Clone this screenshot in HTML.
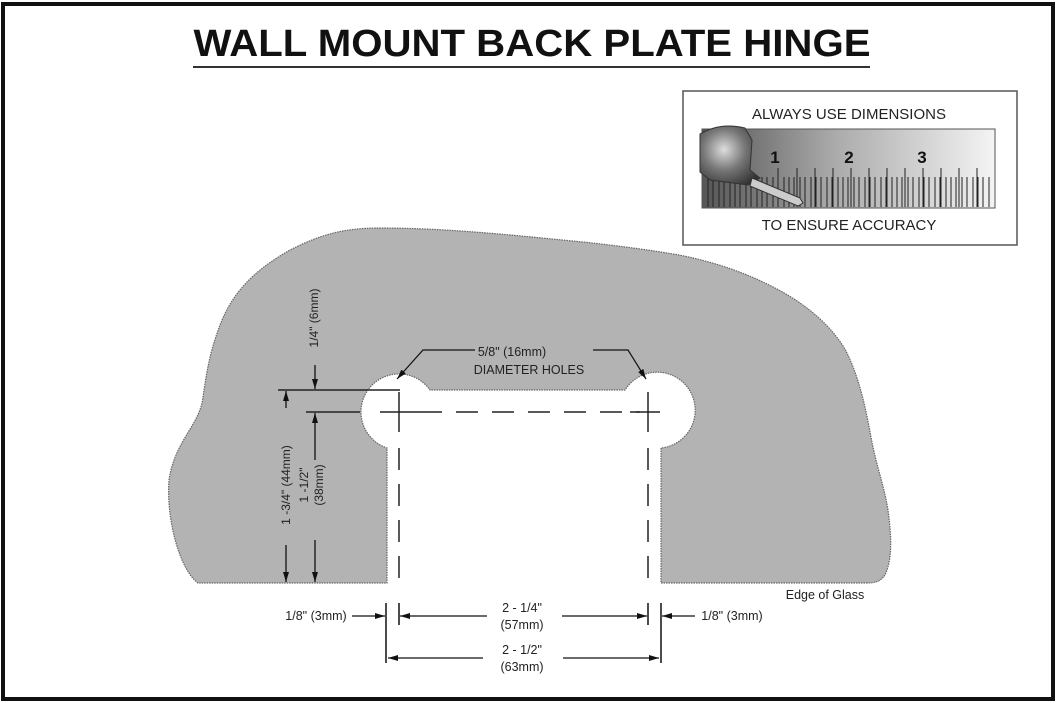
<!DOCTYPE html>
<html><head><meta charset="utf-8"><style>
html,body{margin:0;padding:0;background:#fff}
svg{display:block}
text{font-family:"Liberation Sans",Arial,sans-serif}
</style></head><body>
<svg width="1057" height="703" viewBox="0 0 1057 703" xmlns="http://www.w3.org/2000/svg">
<defs>
<linearGradient id="rg" x1="0" x2="1" y1="0" y2="0">
<stop offset="0" stop-color="#555"/><stop offset="0.45" stop-color="#aaa"/><stop offset="1" stop-color="#f4f4f4"/>
</linearGradient>
<radialGradient id="tg" cx="0.4" cy="0.4" r="0.7">
<stop offset="0" stop-color="#ddd"/><stop offset="0.5" stop-color="#777"/><stop offset="1" stop-color="#333"/>
</radialGradient>
<marker id="ar" viewBox="0 0 10 6" refX="10" refY="3" markerWidth="10" markerHeight="6" orient="auto" markerUnits="userSpaceOnUse"><path d="M0,0 L10,3 L0,6 Z" fill="#111"/></marker>
</defs>
<rect x="3" y="4" width="1050" height="695" fill="none" stroke="#111" stroke-width="4"/>
<text x="532" y="56" font-size="38" font-weight="bold" text-anchor="middle" textLength="677" lengthAdjust="spacingAndGlyphs" fill="#111">WALL MOUNT BACK PLATE HINGE</text>
<line x1="193" y1="67" x2="870" y2="67" stroke="#333" stroke-width="2"/>

<!-- tape box -->
<rect x="683" y="91" width="334" height="154" fill="#fff" stroke="#555" stroke-width="1.5"/>
<text x="849" y="119" font-size="15" text-anchor="middle" fill="#222">ALWAYS USE DIMENSIONS</text>
<text x="849" y="230" font-size="15" text-anchor="middle" fill="#222">TO ENSURE ACCURACY</text>
<rect x="702" y="129" width="293" height="79" fill="url(#rg)" stroke="#555"/>
<g stroke="#222" stroke-width="1">
<path d="M708,177V207M713,177V207M719,177V207M724,177V207M730,177V207M735,177V207M740,177V207M746,177V207M751,177V207M757,177V207M762,177V207M767,177V207M773,177V207M778,177V207M784,177V207M789,177V207M794,177V207M800,177V207M805,177V207M811,177V207M816,177V207M821,177V207M827,177V207M832,177V207M838,177V207M843,177V207M848,177V207M854,177V207M859,177V207M865,177V207M870,177V207M875,177V207M881,177V207M886,177V207M892,177V207M897,177V207M902,177V207M908,177V207M913,177V207M919,177V207M924,177V207M929,177V207M935,177V207M940,177V207M946,177V207M951,177V207M956,177V207M962,177V207M967,177V207M973,177V207M978,177V207M983,177V207M989,177V207"/>
<path d="M778,168V207M797,168V207M815,168V207M833,168V207M851,168V207M869,168V207M887,168V207M905,168V207M923,168V207M941,168V207M959,168V207M977,168V207"/>
</g>
<text x="775" y="163" font-size="17" font-weight="bold" text-anchor="middle" fill="#111">1</text>
<text x="849" y="163" font-size="17" font-weight="bold" text-anchor="middle" fill="#111">2</text>
<text x="922" y="163" font-size="17" font-weight="bold" text-anchor="middle" fill="#111">3</text>
<path d="M700,134 Q720,122 745,128 L752,140 L750,170 L760,178 L748,185 L710,180 L700,172 Z" fill="url(#tg)" stroke="#333"/>
<path d="M752,178 L800,198 L803,203 L798,206 L750,186 Z" fill="#ccc" stroke="#333"/>

<!-- glass -->
<path d="M198,583 C180,570 166,520 169,480 C175,440 200,425 203,397 C207,370 210,350 222,320 C235,290 255,270 290,250 C320,235 342,228 380,228 C450,228 520,236 583,242 C620,246 650,250 679,255 C720,263 750,275 775,288 C810,306 835,330 847,353 C860,380 866,410 871,437 C876,465 884,485 888,510 C892,540 892,560 885,575 C880,582 875,583 866,583 L661,583 L661,448 A38,38 0 1 0 625,390 L430,390 A38,38 0 1 0 387,448 L387,583 Z" fill="#b3b3b3" stroke="#666" stroke-width="1.2" stroke-dasharray="1.5 1"/>

<!-- dashed center lines -->
<g stroke="#222" stroke-width="1.5" stroke-dasharray="22 14" fill="none">
<line x1="300" y1="412" x2="648" y2="412" stroke-dasharray="none" stroke-width="0"/>
<line x1="420" y1="412" x2="640" y2="412"/>
<line x1="399" y1="448" x2="399" y2="590"/>
<line x1="648" y1="448" x2="648" y2="590"/>
</g>
<g stroke="#222" stroke-width="1.5">
<line x1="399" y1="392" x2="399" y2="432"/><line x1="380" y1="412" x2="420" y2="412"/>
<line x1="648" y1="392" x2="648" y2="432"/><line x1="630" y1="412" x2="660" y2="412"/>
<line x1="278" y1="390" x2="400" y2="390"/>
<line x1="306" y1="412" x2="360" y2="412"/>
</g>
<!-- vertical dims -->
<g stroke="#111" stroke-width="1.3" fill="none">
<line x1="315" y1="365" x2="315" y2="389" marker-end="url(#ar)"/>
<line x1="286" y1="408" x2="286" y2="391" marker-end="url(#ar)"/>
<line x1="286" y1="545" x2="286" y2="582" marker-end="url(#ar)"/>
<line x1="315" y1="460" x2="315" y2="413" marker-end="url(#ar)"/>
<line x1="315" y1="540" x2="315" y2="582" marker-end="url(#ar)"/>
</g>
<text transform="translate(318,318) rotate(-90)" font-size="12" text-anchor="middle" fill="#222">1/4" (6mm)</text>
<text transform="translate(290,485) rotate(-90)" font-size="12" text-anchor="middle" fill="#222">1 -3/4" (44mm)</text>
<text transform="translate(308,485) rotate(-90)" font-size="12" text-anchor="middle" fill="#222">1 -1/2"</text>
<text transform="translate(323,485) rotate(-90)" font-size="12" text-anchor="middle" fill="#222">(38mm)</text>

<!-- hole label -->
<text x="512" y="356" font-size="12.5" text-anchor="middle" fill="#222">5/8"   (16mm)</text>
<text x="529" y="374" font-size="12.5" text-anchor="middle" fill="#222">DIAMETER HOLES</text>
<g stroke="#111" stroke-width="1.2" fill="none">
<polyline points="475,350 423,350 397,379" marker-end="url(#ar)"/>
<polyline points="593,350 628,350 646,379" marker-end="url(#ar)"/>
</g>

<!-- bottom dims -->
<g stroke="#111" stroke-width="1.5">
<line x1="386" y1="603" x2="386" y2="663"/>
<line x1="399" y1="603" x2="399" y2="625"/>
<line x1="648" y1="603" x2="648" y2="625"/>
<line x1="661" y1="603" x2="661" y2="663"/>
</g>
<g stroke="#111" stroke-width="1.2" fill="none">
<line x1="352" y1="616" x2="385" y2="616" marker-end="url(#ar)"/>
<line x1="695" y1="616" x2="662" y2="616" marker-end="url(#ar)"/>
<line x1="487" y1="616" x2="400" y2="616" marker-end="url(#ar)"/>
<line x1="562" y1="616" x2="647" y2="616" marker-end="url(#ar)"/>
<line x1="483" y1="658" x2="388" y2="658" marker-end="url(#ar)"/>
<line x1="563" y1="658" x2="659" y2="658" marker-end="url(#ar)"/>
</g>
<text x="316" y="620" font-size="12.5" text-anchor="middle" fill="#222">1/8" (3mm)</text>
<text x="732" y="620" font-size="12.5" text-anchor="middle" fill="#222">1/8" (3mm)</text>
<text x="522" y="612" font-size="12.5" text-anchor="middle" fill="#222">2 - 1/4"</text>
<text x="522" y="629" font-size="12.5" text-anchor="middle" fill="#222">(57mm)</text>
<text x="522" y="654" font-size="12.5" text-anchor="middle" fill="#222">2 - 1/2"</text>
<text x="522" y="671" font-size="12.5" text-anchor="middle" fill="#222">(63mm)</text>
<text x="825" y="599" font-size="12.5" text-anchor="middle" fill="#222">Edge of Glass</text>
</svg>
</body></html>
